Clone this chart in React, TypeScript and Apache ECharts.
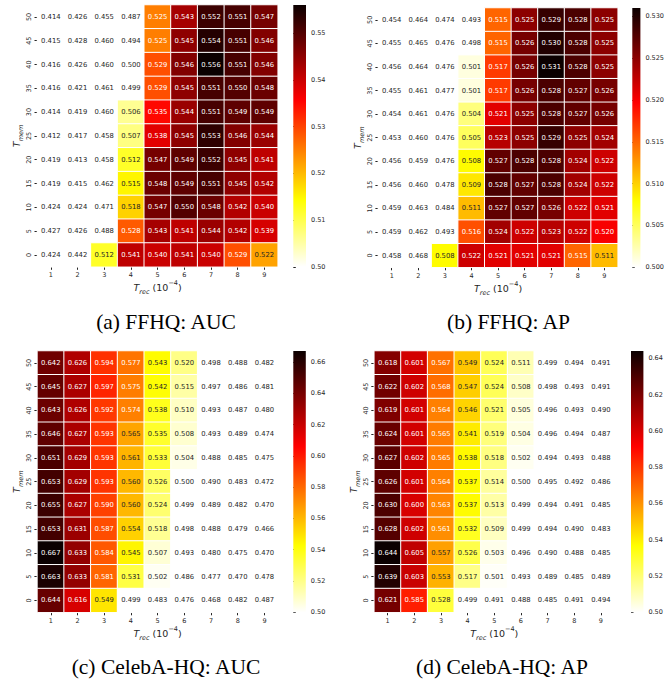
import React, { useEffect, useRef } from 'react';
import * as echarts from 'echarts';

// x categories: T_rec (1e-4), y categories: T_mem (bottom -> top)
const T_REC = ['1', '2', '3', '4', '5', '6', '7', '8', '9'];
const T_MEM = ['0', '5', '10', '15', '20', '25', '30', '35', '40', '45', '50'];

// rows listed from T_mem = 50 (top) down to T_mem = 0 (bottom)
const FFHQ_AUC = [
  [0.414, 0.426, 0.455, 0.487, 0.525, 0.543, 0.552, 0.551, 0.547],
  [0.415, 0.428, 0.460, 0.494, 0.525, 0.545, 0.554, 0.551, 0.546],
  [0.416, 0.426, 0.460, 0.500, 0.529, 0.546, 0.556, 0.551, 0.546],
  [0.416, 0.421, 0.461, 0.499, 0.529, 0.545, 0.551, 0.550, 0.548],
  [0.414, 0.419, 0.460, 0.506, 0.535, 0.544, 0.551, 0.549, 0.549],
  [0.412, 0.417, 0.458, 0.507, 0.538, 0.545, 0.553, 0.546, 0.544],
  [0.419, 0.413, 0.458, 0.512, 0.547, 0.549, 0.552, 0.545, 0.541],
  [0.419, 0.415, 0.462, 0.515, 0.548, 0.549, 0.551, 0.545, 0.542],
  [0.424, 0.424, 0.471, 0.518, 0.547, 0.550, 0.548, 0.542, 0.540],
  [0.427, 0.426, 0.488, 0.528, 0.543, 0.541, 0.544, 0.542, 0.539],
  [0.424, 0.442, 0.512, 0.541, 0.540, 0.541, 0.540, 0.529, 0.522],
];

const FFHQ_AP = [
  [0.454, 0.464, 0.474, 0.493, 0.515, 0.525, 0.529, 0.528, 0.525],
  [0.455, 0.465, 0.476, 0.498, 0.515, 0.526, 0.530, 0.528, 0.525],
  [0.456, 0.464, 0.476, 0.501, 0.517, 0.526, 0.531, 0.528, 0.525],
  [0.455, 0.461, 0.477, 0.501, 0.517, 0.526, 0.528, 0.527, 0.526],
  [0.454, 0.461, 0.476, 0.504, 0.521, 0.525, 0.528, 0.527, 0.526],
  [0.453, 0.460, 0.476, 0.505, 0.523, 0.525, 0.529, 0.525, 0.524],
  [0.456, 0.459, 0.476, 0.508, 0.527, 0.528, 0.528, 0.524, 0.522],
  [0.456, 0.460, 0.478, 0.509, 0.528, 0.527, 0.528, 0.524, 0.522],
  [0.459, 0.463, 0.484, 0.511, 0.527, 0.527, 0.526, 0.522, 0.521],
  [0.459, 0.462, 0.493, 0.516, 0.524, 0.522, 0.523, 0.522, 0.520],
  [0.458, 0.468, 0.508, 0.522, 0.521, 0.521, 0.521, 0.515, 0.511],
];

const CELEBA_AUC = [
  [0.642, 0.626, 0.594, 0.577, 0.543, 0.520, 0.498, 0.488, 0.482],
  [0.645, 0.627, 0.597, 0.575, 0.542, 0.515, 0.497, 0.486, 0.481],
  [0.643, 0.626, 0.592, 0.574, 0.538, 0.510, 0.493, 0.487, 0.480],
  [0.646, 0.627, 0.593, 0.565, 0.535, 0.508, 0.493, 0.489, 0.474],
  [0.651, 0.629, 0.593, 0.561, 0.533, 0.504, 0.488, 0.485, 0.475],
  [0.653, 0.629, 0.593, 0.560, 0.526, 0.500, 0.490, 0.483, 0.472],
  [0.655, 0.627, 0.590, 0.560, 0.524, 0.499, 0.489, 0.482, 0.470],
  [0.653, 0.631, 0.587, 0.554, 0.518, 0.498, 0.488, 0.479, 0.466],
  [0.667, 0.633, 0.584, 0.545, 0.507, 0.493, 0.480, 0.475, 0.470],
  [0.663, 0.633, 0.581, 0.531, 0.502, 0.486, 0.477, 0.470, 0.478],
  [0.644, 0.616, 0.549, 0.499, 0.483, 0.476, 0.468, 0.482, 0.487],
];

const CELEBA_AP = [
  [0.618, 0.601, 0.567, 0.549, 0.524, 0.511, 0.499, 0.494, 0.491],
  [0.622, 0.602, 0.568, 0.547, 0.524, 0.508, 0.498, 0.493, 0.491],
  [0.619, 0.601, 0.564, 0.546, 0.521, 0.505, 0.496, 0.493, 0.490],
  [0.624, 0.601, 0.565, 0.541, 0.519, 0.504, 0.496, 0.494, 0.487],
  [0.627, 0.602, 0.565, 0.538, 0.518, 0.502, 0.494, 0.493, 0.488],
  [0.626, 0.601, 0.564, 0.537, 0.514, 0.500, 0.495, 0.492, 0.486],
  [0.630, 0.600, 0.563, 0.537, 0.513, 0.499, 0.494, 0.491, 0.485],
  [0.628, 0.602, 0.561, 0.532, 0.509, 0.499, 0.494, 0.490, 0.483],
  [0.644, 0.605, 0.557, 0.526, 0.503, 0.496, 0.490, 0.488, 0.485],
  [0.639, 0.603, 0.553, 0.517, 0.501, 0.493, 0.489, 0.485, 0.489],
  [0.621, 0.585, 0.528, 0.499, 0.491, 0.488, 0.485, 0.491, 0.494],
];

const CBAR_TICKS_A = [0.50, 0.51, 0.52, 0.53, 0.54, 0.55];
const CBAR_TICKS_B = [0.500, 0.505, 0.510, 0.515, 0.520, 0.525, 0.530];
const CBAR_TICKS_C = [0.50, 0.52, 0.54, 0.56, 0.58, 0.60, 0.62, 0.64, 0.66];
const CBAR_TICKS_D = [0.50, 0.52, 0.54, 0.56, 0.58, 0.60, 0.62, 0.64];

const VMIN = 0.5;
const CAPTIONS = ['(a) FFHQ: AUC', '(b) FFHQ: AP', '(c) CelebA-HQ: AUC', '(d) CelebA-HQ: AP'];

const TEXT = '#262626';
const SANS = '"DejaVu Sans", sans-serif';

// matplotlib "hot" colormap (s = 0 black ... s = 1 white); the chart uses hot_r
function hot(s: number): [number, number, number] {
  const a = 0.365079;
  const b = 0.746032;
  const r = s < a ? 0.0416 + (1 - 0.0416) * (s / a) : 1;
  const g = s < a ? 0 : s < b ? (s - a) / (b - a) : 1;
  const bl = s < b ? 0 : (s - b) / (1 - b);
  return [r, g, bl];
}
const hex = (c: number) => Math.round(Math.max(0, Math.min(1, c)) * 255).toString(16).padStart(2, '0');
const rgbHex = (c: [number, number, number]) => '#' + hex(c[0]) + hex(c[1]) + hex(c[2]);

// hot_r colour ramp (low -> high) for the visualMap
const HOT_R: string[] = [];
for (let i = 0; i <= 128; i++) HOT_R.push(rgbHex(hot(1 - i / 128)));

function labelColor(v: number, vmax: number) {
  let t = (v - VMIN) / (vmax - VMIN);
  t = Math.max(0, Math.min(1, t));
  const [r, g, b] = hot(1 - t);
  const lin = (c: number) => (c <= 0.03928 ? c / 12.92 : Math.pow((c + 0.055) / 1.055, 2.4));
  const lum = 0.2126 * lin(r) + 0.7152 * lin(g) + 0.0722 * lin(b);
  return lum > 0.408 ? TEXT : '#ffffff';
}

const LAYOUT = [
  { grid: { left: 37.5, top: 5, width: 240.2, height: 261.8 }, cbar: { left: 293.3, top: 5, width: 12.7, height: 261.8 }, cx: 166, cy: 322, dec: 2 },
  { grid: { left: 378.4, top: 8, width: 239.3, height: 259.3 }, cbar: { left: 632.3, top: 8, width: 12.7, height: 259.3 }, cx: 508.5, cy: 322, dec: 3 },
  { grid: { left: 37.4, top: 351, width: 240.4, height: 261.3 }, cbar: { left: 293.3, top: 351, width: 12.5, height: 261.3 }, cx: 166, cy: 667, dec: 2 },
  { grid: { left: 374.3, top: 351, width: 239.9, height: 261.3 }, cbar: { left: 631, top: 351, width: 12.4, height: 261.3 }, cx: 502, cy: 667, dec: 2 },
];

const PANEL_DATA = [FFHQ_AUC, FFHQ_AP, CELEBA_AUC, CELEBA_AP];
const PANEL_TICKS = [CBAR_TICKS_A, CBAR_TICKS_B, CBAR_TICKS_C, CBAR_TICKS_D];

const nameRich = {
  t: { fontFamily: SANS, fontStyle: 'italic', fontSize: 9.5, lineHeight: 16, color: TEXT },
  n: { fontFamily: SANS, fontSize: 9.5, lineHeight: 16, color: TEXT },
  s: { fontFamily: SANS, fontStyle: 'italic', fontSize: 6.5, lineHeight: 9, verticalAlign: 'bottom', color: TEXT },
  p: { fontFamily: SANS, fontSize: 6.5, lineHeight: 9, verticalAlign: 'top', color: TEXT },
};

function buildOption() {
  const grids: any[] = [];
  const xAxes: any[] = [];
  const yAxes: any[] = [];
  const series: any[] = [];
  const graphic: any[] = [];
  const visualMaps: any[] = [];

  PANEL_DATA.forEach((rows, k) => {
    const lay = LAYOUT[k];
    const vmax = Math.max(...rows.flat());
    grids.push(lay.grid);
    xAxes.push({
      type: 'category',
      gridIndex: k,
      data: T_REC,
      position: 'bottom',
      axisLine: { show: false },
      axisTick: { show: true, alignWithLabel: true, length: 3, interval: 0, lineStyle: { color: TEXT, width: 1 } },
      axisLabel: { fontFamily: SANS, fontSize: 6.5, color: TEXT, margin: 5, interval: 0 },
      splitArea: { show: false },
      splitLine: { show: false },
      name: '{t|T}{s|rec}{n| (10}{p|−4}{n|)}',
      nameLocation: 'middle',
      nameGap: 13,
      nameTextStyle: { rich: nameRich },
    });
    yAxes.push({
      type: 'category',
      gridIndex: k,
      data: T_MEM,
      axisLine: { show: false },
      axisTick: { show: true, alignWithLabel: true, length: 3, interval: 0, lineStyle: { color: TEXT, width: 1 } },
      axisLabel: { fontFamily: SANS, fontSize: 6.5, color: TEXT, margin: 5, rotate: 90, interval: 0 },
      splitArea: { show: false },
      splitLine: { show: false },
      name: '{t|T}{s|mem}',
      nameLocation: 'middle',
      nameRotate: 90,
      nameGap: 12,
      nameTextStyle: { rich: nameRich },
    });

    const data: any[] = [];
    rows.forEach((row, i) => {
      row.forEach((v, j) => {
        data.push({
          value: [j, T_MEM.length - 1 - i, v],
          label: { color: labelColor(v, vmax) },
        });
      });
    });
    series.push({
      type: 'heatmap',
      xAxisIndex: k,
      yAxisIndex: k,
      data,
      itemStyle: { borderColor: '#ffffff', borderWidth: 1 },
      label: {
        show: true,
        fontFamily: SANS,
        fontSize: 6.8,
        formatter: (p: any) => p.value[2].toFixed(3),
      },
      emphasis: { disabled: true },
    });
    visualMaps.push({
      type: 'continuous',
      show: false,
      seriesIndex: k,
      dimension: 2,
      min: VMIN,
      max: vmax,
      inRange: { color: HOT_R },
      outOfRange: { color: '#ffffff' },
    });
  });

  // colorbars
  PANEL_DATA.forEach((rows, k) => {
    const lay = LAYOUT[k];
    const vmax = Math.max(...rows.flat());
    const gi = 4 + k;
    grids.push(lay.cbar);
    xAxes.push({ type: 'value', gridIndex: gi, min: 0, max: 1, show: false });
    yAxes.push({
      type: 'value',
      gridIndex: gi,
      min: VMIN,
      max: vmax,
      position: 'right',
      axisLine: { show: false },
      splitLine: { show: false },
      axisTick: { show: true, length: 2.5, customValues: PANEL_TICKS[k], lineStyle: { color: TEXT, width: 1 } },
      axisLabel: {
        customValues: PANEL_TICKS[k],
        fontFamily: SANS,
        fontSize: 6.5,
        color: TEXT,
        margin: 5,
        formatter: (v: number) => v.toFixed(lay.dec),
      },
    });
    series.push({
      type: 'custom',
      xAxisIndex: gi,
      yAxisIndex: gi,
      data: [[0, vmax]],
      silent: true,
      renderItem: (_params: any, api: any) => {
        const p0 = api.coord([0, VMIN]);
        const p1 = api.coord([1, api.value(1)]);
        return {
          type: 'rect',
          shape: { x: p0[0], y: p1[1], width: p1[0] - p0[0], height: p0[1] - p1[1] },
          style: {
            fill: new echarts.graphic.LinearGradient(0, 0, 0, 1, [
              { offset: 0, color: '#0b0000' },
              { offset: 0.365079, color: '#ff0000' },
              { offset: 0.746032, color: '#ffff00' },
              { offset: 1, color: '#ffffff' },
            ]),
          },
        };
      },
    });

    graphic.push({
      type: 'text',
      x: lay.cx,
      y: lay.cy,
      style: {
        text: CAPTIONS[k],
        fontFamily: '"Liberation Serif", serif',
        fontSize: 21.5,
        fill: '#000000',
        align: 'center',
        verticalAlign: 'middle',
      },
    });
  });

  return {
    animation: false,
    backgroundColor: '#ffffff',
    grid: grids,
    xAxis: xAxes,
    yAxis: yAxes,
    visualMap: visualMaps,
    series,
    graphic,
  };
}

export default function App() {
  const ref = useRef<HTMLDivElement>(null);
  useEffect(() => {
    if (!ref.current) return;
    const chart = echarts.init(ref.current, null, { renderer: 'svg' });
    chart.setOption(buildOption());
    return () => chart.dispose();
  }, []);
  return (
    <div
      ref={ref}
      style={{ position: 'absolute', left: 0, top: 0, width: 667, height: 679, background: '#fff' }}
    />
  );
}
